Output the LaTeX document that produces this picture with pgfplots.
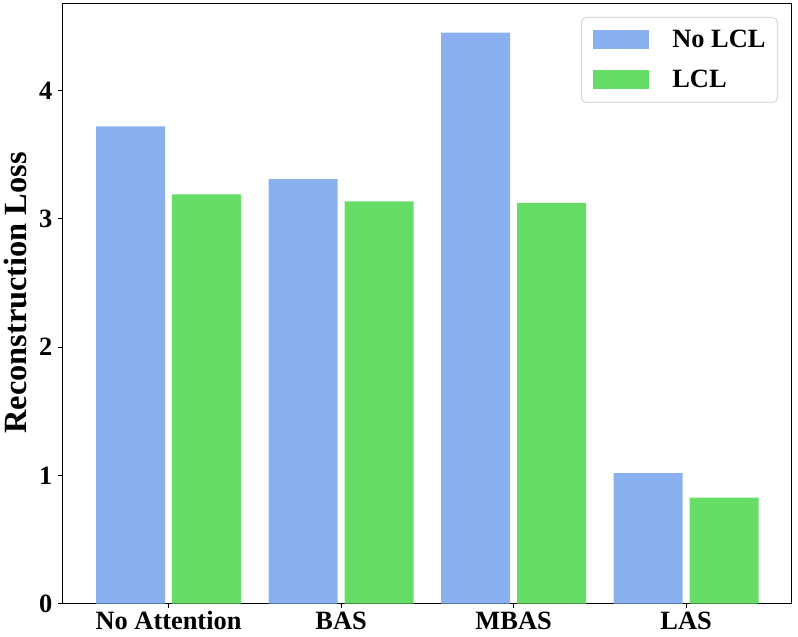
\documentclass[border=0pt]{standalone}
\usepackage{fontspec}
\setmainfont{Liberation Serif}
\usepackage{pgfplots}
\pgfplotsset{compat=1.18}
\definecolor{barblue}{RGB}{138,176,240}
\definecolor{bargreen}{RGB}{102,221,102}
\pgfplotsset{mylegend/.style={legend image code/.code={\fill[##1, sharp corners] (0bp,-9.5bp) rectangle (56bp,9.5bp);}}}
\begin{document}
\begin{tikzpicture}
\begin{axis}[
  scale only axis,
  width=728.7bp, height=599.7bp,
  xmin=-0.612, xmax=3.612,
  ymin=0, ymax=4.674,
  xtick={0,1,2,3},
  xticklabels={No Attention,BAS,MBAS,LAS},
  ytick={0,1,2,3,4},
  tick pos=left,
  tick align=outside,
  major tick length=4.5bp,
  tick style={black, line width=0.8bp},
  axis line style={black, line width=1bp},
  ticklabel style={font=\fontsize{26.5}{26.5}\selectfont\bfseries},
  /pgf/number format/assume math mode=true,
  yticklabel style={inner sep=0pt, anchor=east, xshift=-6bp},
  xticklabel style={inner sep=0pt, anchor=base, yshift=-21.5bp},
  ylabel={Reconstruction Loss},
  ylabel style={font=\fontsize{32.5}{32.5}\selectfont\bfseries, at={(axis description cs:-0.0494,0.5183)}, anchor=south, inner sep=0pt},
  legend style={at={(1,1)}, anchor=north east, xshift=-13.7bp, yshift=-13bp,
    draw=black!15, rounded corners=5bp, line width=1bp,
    font=\fontsize{26.5}{26.5}\selectfont\bfseries,
    inner xsep=12bp, inner ysep=13bp, row sep=21bp, column sep=23bp,
    nodes={inner sep=0pt}},
  legend cell align=left,
]
\addplot[ybar, bar width=0.40, bar shift=0pt, fill=barblue, draw=none, mylegend]
  coordinates {(-0.22,3.721) (0.78,3.31) (1.78,4.451) (2.78,1.018)};
\addlegendentry{No LCL}
\addplot[ybar, bar width=0.40, bar shift=0pt, fill=bargreen, draw=none, mylegend]
  coordinates {(0.22,3.191) (1.22,3.136) (2.22,3.123) (3.22,0.826)};
\addlegendentry{LCL}
\end{axis}
\pgfresetboundingbox
\path[use as bounding box] ([xshift=-63bp,yshift=-33.3bp]current axis.south west) rectangle ([xshift=6.3bp,yshift=4bp]current axis.north east);
\end{tikzpicture}
\end{document}
